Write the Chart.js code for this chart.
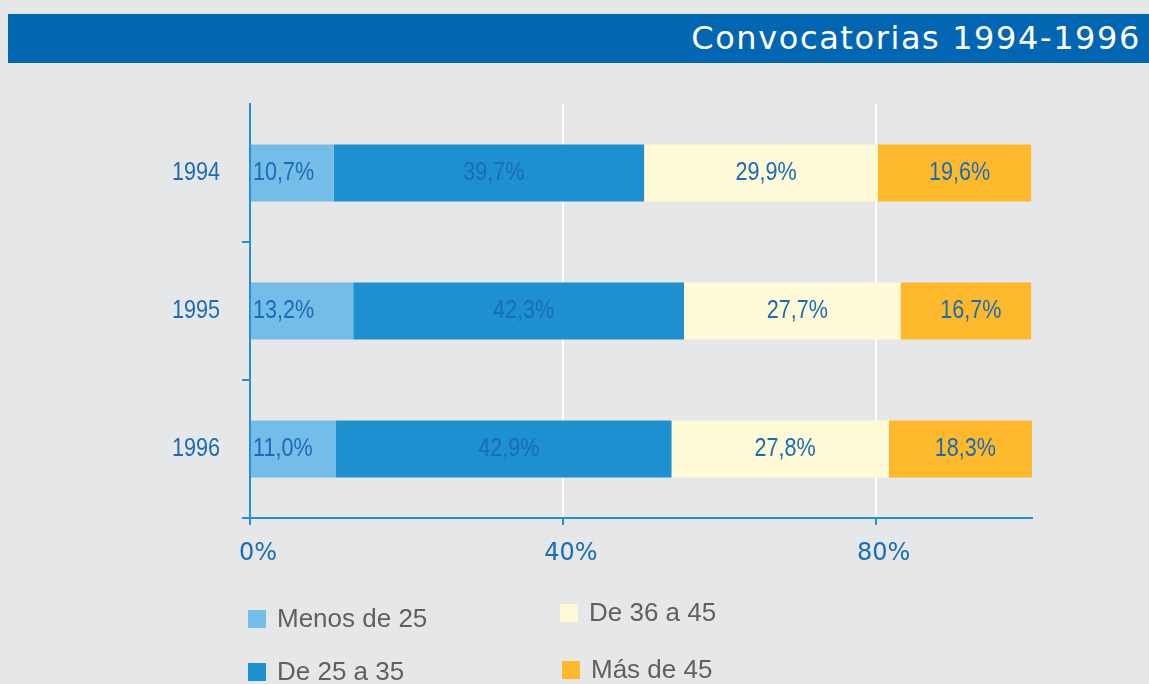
<!DOCTYPE html>
<html>
<head>
<meta charset="utf-8">
<script src="https://cdn.jsdelivr.net/npm/chart.js@4"></script>
<style>
  html, body { margin: 0; padding: 0; background: #e6e7e9; }
  body { width: 1149px; height: 684px; position: relative; overflow: hidden; }
  #banner {
    position: absolute; left: 8px; top: 14px; width: 1141px; height: 49px;
    background: #0366b3;
  }
  #banner span {
    position: absolute; right: 8px; top: 5px;
    font-family: "DejaVu Sans", sans-serif; font-size: 32px; letter-spacing: 1.6px;
    color: #ffffff; white-space: nowrap;
  }
  #chartBox { position: absolute; left: 0; top: 0; width: 1149px; height: 684px; }
  .leyenda { position: absolute; font-family: "Liberation Sans", Arial, sans-serif; font-size: 26px; color: #606060; white-space: nowrap; }
  .leyenda i { display: inline-block; width: 18px; height: 18px; margin-right: 11px; vertical-align: -1px; }
</style>
</head>
<body>
<div id="chartBox"><canvas id="grafico" width="1149" height="684"></canvas></div>
<div id="banner"><span>Convocatorias 1994-1996</span></div>
<div id="leyendaBox"></div>
<script>
// Datos del gráfico
const anios = ['1994', '1995', '1996'];
const series = ['Menos de 25', 'De 25 a 35', 'De 36 a 45', 'Más de 45'];
const menos25 = [10.7, 13.2, 11.0];
const de25a35 = [39.7, 42.3, 42.9];
const de36a45 = [29.9, 27.7, 27.8];
const mas45 = [19.6, 16.7, 18.3];
const ticksX = [0, 40, 80];

const colores = ['#74bde8', '#1e90d0', '#fef9d7', '#fdb92b'];
const azulTexto = '#1a6cb5';
const azulEje = '#2a8fd0';
const fuenteEstrecha = '26px "Liberation Sans", Arial, sans-serif';
const estrechar = 0.83; // simula una fuente condensada

// Posiciones de la leyenda (dos columnas)
const posLeyenda = [
  { left: 248, top: 603 },
  { left: 248, top: 656 },
  { left: 560, top: 597 },
  { left: 562, top: 654 }
];

const leyendaBox = document.getElementById('leyendaBox');
series.forEach((nombre, i) => {
  const item = document.createElement('div');
  item.className = 'leyenda';
  item.style.left = posLeyenda[i].left + 'px';
  item.style.top = posLeyenda[i].top + 'px';
  item.innerHTML = '<i style="background:' + colores[i] + '"></i>' + nombre;
  leyendaBox.appendChild(item);
});

function textoEstrecho(ctx, texto, x, y, align) {
  const w = ctx.measureText(texto).width * estrechar;
  let x0 = x;
  if (align === 'center') x0 = x - w / 2;
  if (align === 'right') x0 = x - w;
  ctx.save();
  ctx.translate(x0, y);
  ctx.scale(estrechar, 1);
  ctx.textAlign = 'left';
  ctx.fillText(texto, 0, 0);
  ctx.restore();
}

// Etiquetas de valor dentro de las barras y etiquetas de años
const etiquetasBarras = {
  id: 'etiquetasBarras',
  afterDatasetsDraw(chart) {
    const ctx = chart.ctx;
    ctx.save();
    ctx.font = fuenteEstrecha;
    ctx.fillStyle = azulTexto;
    ctx.textBaseline = 'middle';
    chart.data.datasets.forEach((ds, di) => {
      const meta = chart.getDatasetMeta(di);
      meta.data.forEach((bar, i) => {
        const texto = ds.data[i].toFixed(1).replace('.', ',') + '%';
        if (di === 0) {
          textoEstrecho(ctx, texto, bar.base + 2, bar.y, 'left');
        } else {
          textoEstrecho(ctx, texto, (bar.x + bar.base) / 2 + 5, bar.y, 'center');
        }
      });
    });
    const escalaY = chart.scales.y;
    anios.forEach((a, i) => {
      textoEstrecho(ctx, a, escalaY.right - 30, escalaY.getPixelForTick(i), 'right');
    });
    ctx.restore();
  }
};

const datosSeries = [menos25, de25a35, de36a45, mas45];

new Chart(document.getElementById('grafico'), {
  type: 'bar',
  data: {
    labels: anios,
    datasets: series.map((nombre, i) => ({
      label: nombre,
      data: datosSeries[i],
      backgroundColor: colores[i],
      borderWidth: 0,
      barPercentage: 1,
      categoryPercentage: 0.413
    }))
  },
  options: {
    indexAxis: 'y',
    responsive: false,
    animation: false,
    layout: { padding: { top: 104, right: 117, left: 0, bottom: 0 } },
    scales: {
      x: {
        stacked: true,
        min: 0,
        max: 100,
        afterBuildTicks: (scale) => { scale.ticks = ticksX.map(v => ({ value: v })); },
        afterFit: (scale) => { scale.height = 166; },
        grid: { color: '#ffffff', lineWidth: 2, tickColor: azulEje, tickLength: 7, tickWidth: 2 },
        border: { color: azulEje, width: 2 },
        ticks: {
          color: azulTexto,
          padding: 14,
          labelOffset: 8,
          font: { family: '"DejaVu Sans", sans-serif', size: 24 },
          callback: (v) => v + '%'
        }
      },
      y: {
        stacked: true,
        afterFit: (scale) => { scale.width = 250; },
        grid: {
          drawOnChartArea: false,
          color: (c) => c.index === 0 ? 'rgba(0,0,0,0)' : azulEje,
          tickLength: 8,
          lineWidth: 2
        },
        border: { color: azulEje, width: 2 },
        ticks: {
          color: 'rgba(0,0,0,0)',
          padding: 22,
          font: { family: '"Liberation Sans", sans-serif', size: 25 }
        }
      }
    },
    plugins: {
      legend: { display: false },
      tooltip: { enabled: false }
    }
  },
  plugins: [etiquetasBarras]
});
</script>
</body>
</html>
